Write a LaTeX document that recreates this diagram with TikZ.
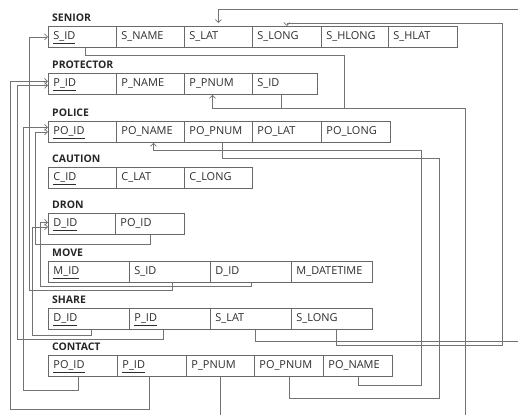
\documentclass[tikz,border=0pt]{standalone}
\usepackage{fontspec}
\newfontfamily\erdfont{Open Sans}
\usetikzlibrary{arrows.meta}
\definecolor{boxgray}{RGB}{105,105,105}
\definecolor{linkgray}{RGB}{115,115,115}
\definecolor{textgray}{RGB}{45,45,45}
\tikzset{
    cell/.style={
        draw=boxgray, line width=0.9bp, anchor=north west,
        minimum height=21bp, inner xsep=5bp, inner ysep=0pt,
        align=left, text height=8.5bp, text depth=2.5bp, text=textgray,
        font=\erdfont\fontsize{11}{13}\selectfont
    },
    % table names above the rows
    tabletitle/.style={
        anchor=base west, inner sep=0pt, text=black!85,
        font=\erdfont\bfseries\fontsize{10.5}{13}\selectfont
    },
    link/.style={linkgray, line width=0.7bp},
    linkarrow/.style={
        link, -{Straight Barb[length=3bp, width=6bp]}
    }
}

\begin{document}
\begin{tikzpicture}[x=1bp,y=-1bp]
    \useasboundingbox (0,0) rectangle (518,414);
    \clip (0,0) rectangle (518,414);

    \node[tabletitle] (tsen) at (52,21) {SENIOR};
    \foreach \lbl/\xa/\xb [count=\i] in {\underline{S\_ID}/48/116, S\_NAME/116/184, S\_LAT/184/252, S\_LONG/252/321, S\_HLONG/321/388, S\_HLAT/388/457}{
        \pgfmathsetmacro\w{\xb-\xa}
        \pgfmathsetmacro\tw{\xb-\xa-10}
        \node[cell, minimum width=\w bp, text width=\tw bp] (sen\i) at (\xa,26) {\lbl};
    }

    \node[tabletitle] (tpro) at (52,68) {PROTECTOR};
    \foreach \lbl/\xa/\xb [count=\i] in {\underline{P\_ID}/48/116, P\_NAME/116/184, P\_PNUM/184/252, S\_ID/252/317}{
        \pgfmathsetmacro\w{\xb-\xa}
        \pgfmathsetmacro\tw{\xb-\xa-10}
        \node[cell, minimum width=\w bp, text width=\tw bp] (pro\i) at (\xa,73) {\lbl};
    }

    \node[tabletitle] (tpol) at (52,116) {POLICE};
    \foreach \lbl/\xa/\xb [count=\i] in {\underline{PO\_ID}/48/116, PO\_NAME/116/184, PO\_PNUM/184/252, PO\_LAT/252/321, PO\_LONG/321/390}{
        \pgfmathsetmacro\w{\xb-\xa}
        \pgfmathsetmacro\tw{\xb-\xa-10}
        \node[cell, minimum width=\w bp, text width=\tw bp] (pol\i) at (\xa,121) {\lbl};
    }

    \node[tabletitle] (tcau) at (52,162) {CAUTION};
    \foreach \lbl/\xa/\xb [count=\i] in {\underline{C\_ID}/48/116, C\_LAT/116/184, C\_LONG/184/252}{
        \pgfmathsetmacro\w{\xb-\xa}
        \pgfmathsetmacro\tw{\xb-\xa-10}
        \node[cell, minimum width=\w bp, text width=\tw bp] (cau\i) at (\xa,167) {\lbl};
    }

    \node[tabletitle] (tdro) at (52,208) {DRON};
    \foreach \lbl/\xa/\xb [count=\i] in {\underline{D\_ID}/48/115, PO\_ID/115/184}{
        \pgfmathsetmacro\w{\xb-\xa}
        \pgfmathsetmacro\tw{\xb-\xa-10}
        \node[cell, minimum width=\w bp, text width=\tw bp] (dro\i) at (\xa,213) {\lbl};
    }

    \node[tabletitle] (tmov) at (52,256) {MOVE};
    \foreach \lbl/\xa/\xb [count=\i] in {\underline{M\_ID}/48/129, S\_ID/129/210, D\_ID/210/291, M\_DATETIME/291/372}{
        \pgfmathsetmacro\w{\xb-\xa}
        \pgfmathsetmacro\tw{\xb-\xa-10}
        \node[cell, minimum width=\w bp, text width=\tw bp] (mov\i) at (\xa,261) {\lbl};
    }

    \node[tabletitle] (tsha) at (52,303) {SHARE};
    \foreach \lbl/\xa/\xb [count=\i] in {\underline{D\_ID}/48/129, \underline{P\_ID}/129/210, S\_LAT/210/291, S\_LONG/291/372}{
        \pgfmathsetmacro\w{\xb-\xa}
        \pgfmathsetmacro\tw{\xb-\xa-10}
        \node[cell, minimum width=\w bp, text width=\tw bp] (sha\i) at (\xa,308) {\lbl};
    }

    \node[tabletitle] (tcon) at (52,350) {CONTACT};
    \foreach \lbl/\xa/\xb [count=\i] in {\underline{PO\_ID}/48/117, \underline{P\_ID}/117/186, P\_PNUM/186/254, PO\_PNUM/254/323, PO\_NAME/323/392}{
        \pgfmathsetmacro\w{\xb-\xa}
        \pgfmathsetmacro\tw{\xb-\xa-10}
        \node[cell, minimum width=\w bp, text width=\tw bp] (con\i) at (\xa,355) {\lbl};
    }

    % links on the right
    \draw[link] ([xshift=-4bp]pro4.south) -- ++(0,13) -| (344,55) -| ([xshift=3bp]sen1.south);
    \draw[linkarrow] (con3.south) -- ++(0,38) -| (465,108) -| ([xshift=-6bp]pro3.south);
    \draw[linkarrow] (con5.south) -- ++(0,8) -| (421,150) -| ([xshift=3bp]pol2.south);
    \draw[link] (con4.south) -- ++(0,21) -| (439,158) -| ([xshift=4bp]pol3.south);
    \draw[linkarrow] ([xshift=4bp]sha4.south) -- ++(0,15) -| (502,23) -| (sen4.north);
    \draw[linkarrow] ([xshift=4bp]sha3.south) -- ++(0,11) -| (530,9) -| ([yshift=3bp]sen3.north);

    % links on the left
    \draw[linkarrow] ([xshift=2bp]mov2.south) -- ++(0,7) -| ([xshift=-19bp]sen1.west) -- (sen1.west);
    \draw[linkarrow] (mov3.south) -- ++(0,3) -| ([xshift=-8bp,yshift=1.5bp]dro1.west) -- ([yshift=1.5bp]dro1.west);
    \draw[linkarrow] ([xshift=2bp]sha1.south) -- ++(0,5) -| ([xshift=-16bp,yshift=-3bp]dro1.west) -- ([yshift=-3bp]dro1.west);
    \draw[linkarrow] ([xshift=-7bp]sha2.south) -- ++(0,9) -| ([xshift=-31bp,yshift=-1.5bp]pro1.west) -- ([yshift=-1.5bp]pro1.west);
    \draw[linkarrow] ([xshift=-3bp]con2.south) -- ++(0,32) -| ([xshift=-38bp,yshift=2.5bp]pro1.west) -- ([yshift=2.5bp]pro1.west);
    \draw[linkarrow] ([xshift=-5bp]con1.south) -- ++(0,13) -| ([xshift=-25bp,yshift=4.5bp]pol1.west) -- ([yshift=4.5bp]pol1.west);
    \draw[linkarrow] (dro2.south) -- ++(0,9) -| ([xshift=-13bp]pol1.west) -- (pol1.west);
\end{tikzpicture}
\end{document}
